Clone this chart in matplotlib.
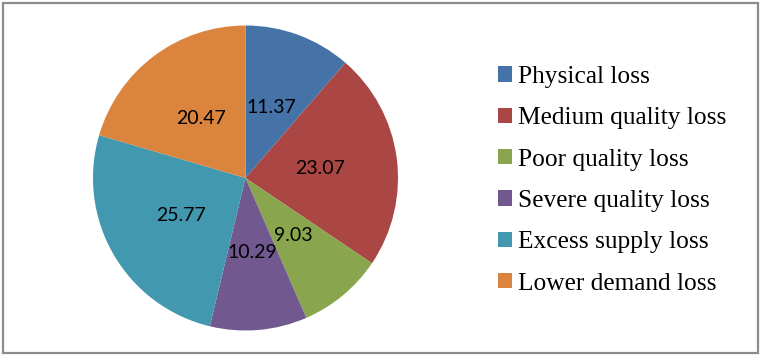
import numpy as np
import matplotlib
matplotlib.use('Agg')
import matplotlib.pyplot as plt
from matplotlib.patches import Rectangle

# data
labels = ['Physical loss', 'Medium quality loss', 'Poor quality loss',
          'Severe quality loss', 'Excess supply loss', 'Lower demand loss']
values = [11.37, 23.07, 9.03, 10.29, 25.77, 20.47]
colors = ['#4572A7', '#AA4643', '#89A54E', '#71588F', '#4198AF', '#DB843D']

W, H = 762, 357
fig = plt.figure(figsize=(W / 100, H / 100), dpi=100)

# outer frame
fig.patches.append(Rectangle((3 / W, 1 - 353 / H), 755 / W, 350 / H,
                             transform=fig.transFigure, fill=False,
                             edgecolor='#8c8c8c', linewidth=1.6))

# pie axes: centre (245.5, 178) px, radius 152.5 px
cx, cy, r = 245.5, 178, 152.5
ax = fig.add_axes([(cx - r) / W, (H - cy - r) / H, 2 * r / W, 2 * r / H])
wedges, texts = ax.pie(values, colors=colors, startangle=90, counterclock=False,
                       labels=[f'{v:.2f}' for v in values], labeldistance=0.49,
                       wedgeprops=dict(linewidth=0),
                       textprops=dict(fontsize=14, family='Lato', color='black'))
for t in texts:
    t.set_ha('center')
    t.set_va('center')
ax.set_xlim(-1, 1)
ax.set_ylim(-1, 1)
ax.set_aspect('equal')

# legend
leg = fig.legend(wedges, labels, loc='upper left',
                 bbox_to_anchor=(498 / W, 1 - 66 / H),
                 frameon=False, prop=dict(family='Liberation Serif', size=18.3),
                 handlelength=0.55, handleheight=0.55, handletextpad=0.22,
                 labelspacing=0.76, borderpad=0, borderaxespad=0)

fig.savefig('out.png', dpi=100)
